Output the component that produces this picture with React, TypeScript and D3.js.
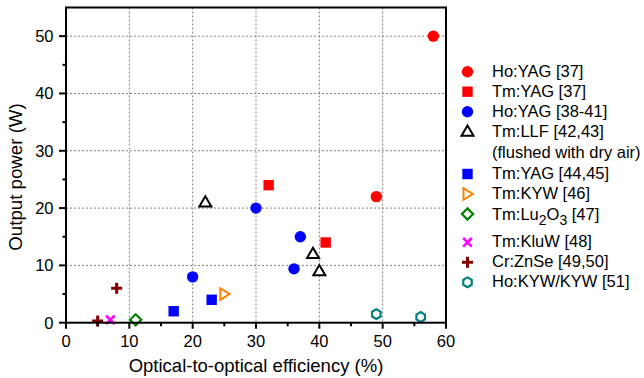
import React from "react";
import * as d3 from "d3";

// Laser results: optical-to-optical efficiency (%) vs output power (W)
const hoYag37 = [
  { x: 58, y: 50 },
  { x: 49, y: 22 },
];
const tmYag37 = [
  { x: 32, y: 24 },
  { x: 41, y: 14 },
];
const hoYag3841 = [
  { x: 20, y: 8 },
  { x: 30, y: 20 },
  { x: 36, y: 9.4 },
  { x: 37, y: 15 },
];
const tmLlf = [
  { x: 22, y: 21 },
  { x: 39, y: 12 },
  { x: 40, y: 9 },
];
const tmYag4445 = [
  { x: 17, y: 2 },
  { x: 23, y: 4 },
];
const tmKyw = [{ x: 25, y: 5 }];
const tmLu2o3 = [{ x: 11, y: 0.5 }];
const tmKluw = [{ x: 7, y: 0.5 }];
const crZnSe = [
  { x: 5, y: 0.3 },
  { x: 8, y: 6 },
];
const hoKyw = [
  { x: 49, y: 1.5 },
  { x: 56, y: 1 },
];

const xTicks = [0, 10, 20, 30, 40, 50, 60];
const yTicks = [0, 10, 20, 30, 40, 50];
const xMinor = [5, 15, 25, 35, 45, 55];
const yMinor = [5, 15, 25, 35, 45];

type Marker =
  | "circle"
  | "square"
  | "triUp"
  | "triRight"
  | "diamond"
  | "cross"
  | "plus"
  | "hexagon";

interface Series {
  label: React.ReactNode;
  data: { x: number; y: number }[];
  marker: Marker;
  color: string;
}

const series: Series[] = [
  { label: "Ho:YAG [37]", data: hoYag37, marker: "circle", color: "#ff0000" },
  { label: "Tm:YAG [37]", data: tmYag37, marker: "square", color: "#ff0000" },
  { label: "Ho:YAG [38-41]", data: hoYag3841, marker: "circle", color: "#0000ff" },
  { label: "Tm:LLF [42,43]", data: tmLlf, marker: "triUp", color: "#000000" },
  { label: "Tm:YAG [44,45]", data: tmYag4445, marker: "square", color: "#0000ff" },
  { label: "Tm:KYW [46]", data: tmKyw, marker: "triRight", color: "#ff8000" },
  { label: "Tm:Lu2O3 [47]", data: tmLu2o3, marker: "diamond", color: "#008000" },
  { label: "Tm:KluW [48]", data: tmKluw, marker: "cross", color: "#ff00ff" },
  { label: "Cr:ZnSe [49,50]", data: crZnSe, marker: "plus", color: "#800000" },
  { label: "Ho:KYW/KYW [51]", data: hoKyw, marker: "hexagon", color: "#008080" },
];

const FONT = "'Liberation Sans', Arial, Helvetica, sans-serif";
const LEGEND_FS = 16.5;

const left = 66;
const right = 446;
const top = 7.5;
const bottom = 322.7;

const x = d3.scaleLinear().domain([0, 60]).range([left, right]);
const y = d3.scaleLinear().domain([0, 55]).range([bottom, top]);

function MarkerShape({ kind, color, cx, cy }: { kind: Marker; color: string; cx: number; cy: number }) {
  const t = `translate(${cx},${cy})`;
  switch (kind) {
    case "circle":
      return <circle cx={cx} cy={cy} r={5.7} fill={color} />;
    case "square":
      return <rect x={cx - 5.2} y={cy - 5.2} width={10.4} height={10.4} fill={color} />;
    case "triUp":
      return (
        <path
          transform={t}
          d="M0,-6.2L6,4.1L-6,4.1Z"
          fill="#fff"
          stroke={color}
          strokeWidth={2}
          strokeLinejoin="miter"
        />
      );
    case "triRight":
      return (
        <path
          transform={t}
          d="M-4,-5.8L5.2,0L-4,5.8Z"
          fill="#fff"
          stroke={color}
          strokeWidth={2}
        />
      );
    case "diamond":
      return (
        <path
          transform={t}
          d="M0,-5.6L5.6,0L0,5.6L-5.6,0Z"
          fill="#fff"
          stroke={color}
          strokeWidth={2.2}
        />
      );
    case "cross":
      return (
        <path
          transform={t}
          d="M-4.3,-4.3L4.3,4.3M-4.3,4.3L4.3,-4.3"
          stroke={color}
          strokeWidth={2.6}
        />
      );
    case "plus":
      return (
        <path
          transform={t}
          d="M-5.5,0L5.5,0M0,-5.5L0,5.5"
          stroke={color}
          strokeWidth={3}
        />
      );
    case "hexagon": {
      const r = 4.9;
      const pts = d3.range(6).map((i) => {
        const a = (Math.PI / 3) * i - Math.PI / 2;
        return [r * Math.cos(a), r * Math.sin(a)];
      });
      const d = "M" + pts.map((p) => p.join(",")).join("L") + "Z";
      return <path transform={t} d={d} fill="#fff" stroke={color} strokeWidth={2.2} />;
    }
  }
  return null;
}

// legend layout: marker centre y and text baseline y per row
const legendRows = [
  { idx: 0, my: 71.7, ty: 76.7 },
  { idx: 1, my: 91.7, ty: 96.7 },
  { idx: 2, my: 111.7, ty: 116.7 },
  { idx: 3, my: 131.7, ty: 136.7 },
  { idx: 4, my: 174, ty: 179 },
  { idx: 5, my: 194, ty: 199 },
  { idx: 6, my: 214, ty: 220 },
  { idx: 7, my: 242.3, ty: 247 },
  { idx: 8, my: 262.3, ty: 267 },
  { idx: 9, my: 282.3, ty: 287 },
];

function LegendText({ idx, ty }: { idx: number; ty: number }) {
  const tx = 492;
  if (idx === 6) {
    return (
      <text x={tx} y={ty} fontSize={LEGEND_FS}>
        Tm:Lu
        <tspan dy={5} fontSize={14}>2</tspan>
        <tspan dy={-5}>O</tspan>
        <tspan dy={5} fontSize={14}>3</tspan>
        <tspan dy={-5}> [47]</tspan>
      </text>
    );
  }
  return (
    <text x={tx} y={ty} fontSize={LEGEND_FS}>
      {series[idx].label}
    </text>
  );
}

export default function App() {
  return (
    <svg
      width={644}
      height={378}
      style={{ position: "absolute", left: 0, top: 0, background: "#fff" }}
      fontFamily={FONT}
    >
      <rect width={644} height={378} fill="#fff" />
      {/* grid */}
      <g stroke="#808080" strokeWidth={1} strokeDasharray="2,2">
        {xTicks
          .filter((v) => v > 0 && v < 60)
          .map((v) => (
            <line key={"gx" + v} x1={x(v)} x2={x(v)} y1={top} y2={bottom} />
          ))}
        {yTicks
          .filter((v) => v > 0)
          .map((v) => (
            <line key={"gy" + v} x1={left} x2={right} y1={y(v)} y2={y(v)} />
          ))}
      </g>

      {/* data */}
      {series.map((s, si) =>
        s.data.map((p, pi) => (
          <MarkerShape key={si + "-" + pi} kind={s.marker} color={s.color} cx={x(p.x)} cy={y(p.y)} />
        ))
      )}

      {/* frame */}
      <rect x={left} y={top} width={right - left} height={bottom - top} fill="none" stroke="#000" strokeWidth={2} />

      {/* ticks */}
      <g stroke="#000" strokeWidth={2}>
        {xTicks.map((v) => (
          <line key={"tx" + v} x1={x(v)} x2={x(v)} y1={bottom} y2={bottom + 6} />
        ))}
        {xMinor.map((v) => (
          <line key={"mx" + v} x1={x(v)} x2={x(v)} y1={bottom} y2={bottom + 3.5} />
        ))}
        {yTicks.map((v) => (
          <line key={"ty" + v} x1={left} x2={left - 7} y1={y(v)} y2={y(v)} />
        ))}
        {yMinor.map((v) => (
          <line key={"my" + v} x1={left} x2={left - 3.5} y1={y(v)} y2={y(v)} />
        ))}
      </g>

      {/* tick labels */}
      <g fontSize={16.5} fill="#000">
        {xTicks.map((v) => (
          <text key={"lx" + v} x={x(v)} y={346.5} textAnchor="middle">
            {v}
          </text>
        ))}
        {yTicks.map((v) => (
          <text key={"ly" + v} x={53.5} y={y(v) + 5.9} textAnchor="end">
            {v}
          </text>
        ))}
      </g>

      {/* axis titles */}
      <text x={(left + right) / 2} y={371.5} fontSize={18.5} textAnchor="middle">
        Optical-to-optical efficiency (%)
      </text>
      <text
        transform={`translate(21.5,177) rotate(-90)`}
        fontSize={18.7}
        textAnchor="middle"
      >
        Output power (W)
      </text>

      {/* legend */}
      {legendRows.map((r) => (
        <g key={"lg" + r.idx}>
          <MarkerShape kind={series[r.idx].marker} color={series[r.idx].color} cx={467.5} cy={r.my} />
          <LegendText idx={r.idx} ty={r.ty} />
        </g>
      ))}
      <text x={492} y={158.3} fontSize={LEGEND_FS}>
        (flushed with dry air)
      </text>
    </svg>
  );
}
